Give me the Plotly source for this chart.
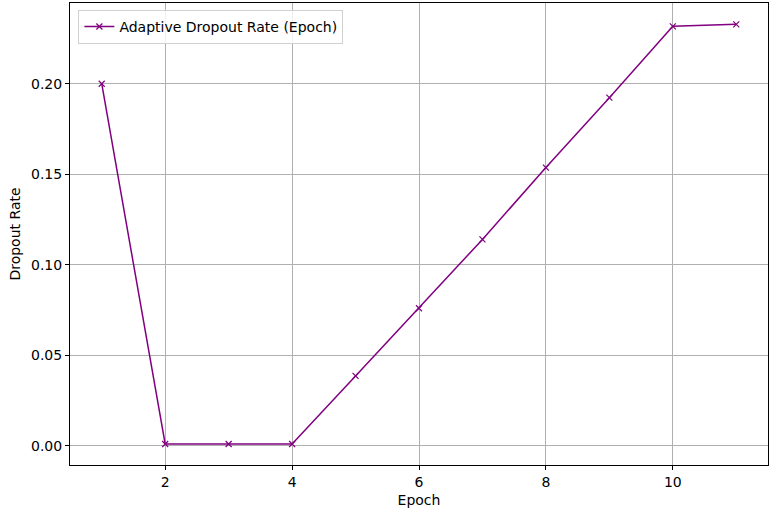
import plotly.graph_objects as go

epochs = [1, 2, 3, 4, 5, 6, 7, 8, 9, 10, 11]
dropout_rate = [0.200, 0.001, 0.001, 0.001, 0.0386, 0.0760, 0.1140, 0.1537, 0.1923, 0.2317, 0.2328]
x_ticks = [2, 4, 6, 8, 10]
y_ticks = [0.00, 0.05, 0.10, 0.15, 0.20]

FONT = "DejaVu Sans"
FS = 14

fig = go.Figure()
fig.add_trace(go.Scatter(
    x=epochs, y=dropout_rate, mode="lines+markers",
    name="Adaptive Dropout Rate (Epoch)",
    line=dict(color="purple", width=1.5),
    marker=dict(symbol="x-thin", size=6, color="purple", line=dict(color="purple", width=1.2)),
))

axis_style = dict(
    showline=True, linecolor="black", linewidth=1, mirror=True,
    showgrid=True, gridcolor="#b0b0b0", gridwidth=0.8,
    ticks="outside", ticklen=4, tickcolor="black", zeroline=False,
    tickfont=dict(family=FONT, size=FS, color="black"),
    automargin=False,
)

fig.update_xaxes(range=[0.5, 11.5], tickvals=x_ticks, title=dict(text="Epoch", standoff=6,
                 font=dict(family=FONT, size=FS, color="black")), **axis_style)
fig.update_yaxes(range=[-0.0106, 0.2446], tickvals=y_ticks, tickformat=".2f",
                 title=dict(text="Dropout Rate", standoff=7,
                            font=dict(family=FONT, size=FS, color="black")), **axis_style)

fig.update_layout(
    width=777, height=518,
    margin=dict(l=70, r=9, t=3, b=53),
    plot_bgcolor="white", paper_bgcolor="white",
    font=dict(family=FONT, size=FS, color="black"),
    showlegend=True,
    legend=dict(x=0.012, y=0.985, xanchor="left", yanchor="top",
                bgcolor="rgba(255,255,255,0.8)", bordercolor="#d0d0d0", borderwidth=1,
                font=dict(size=FS)),
)

# browser default body margin would shift the figure by 8px
fig.write_html("out.html", config={"displayModeBar": False},
               post_script="document.body.style.margin='0';")
